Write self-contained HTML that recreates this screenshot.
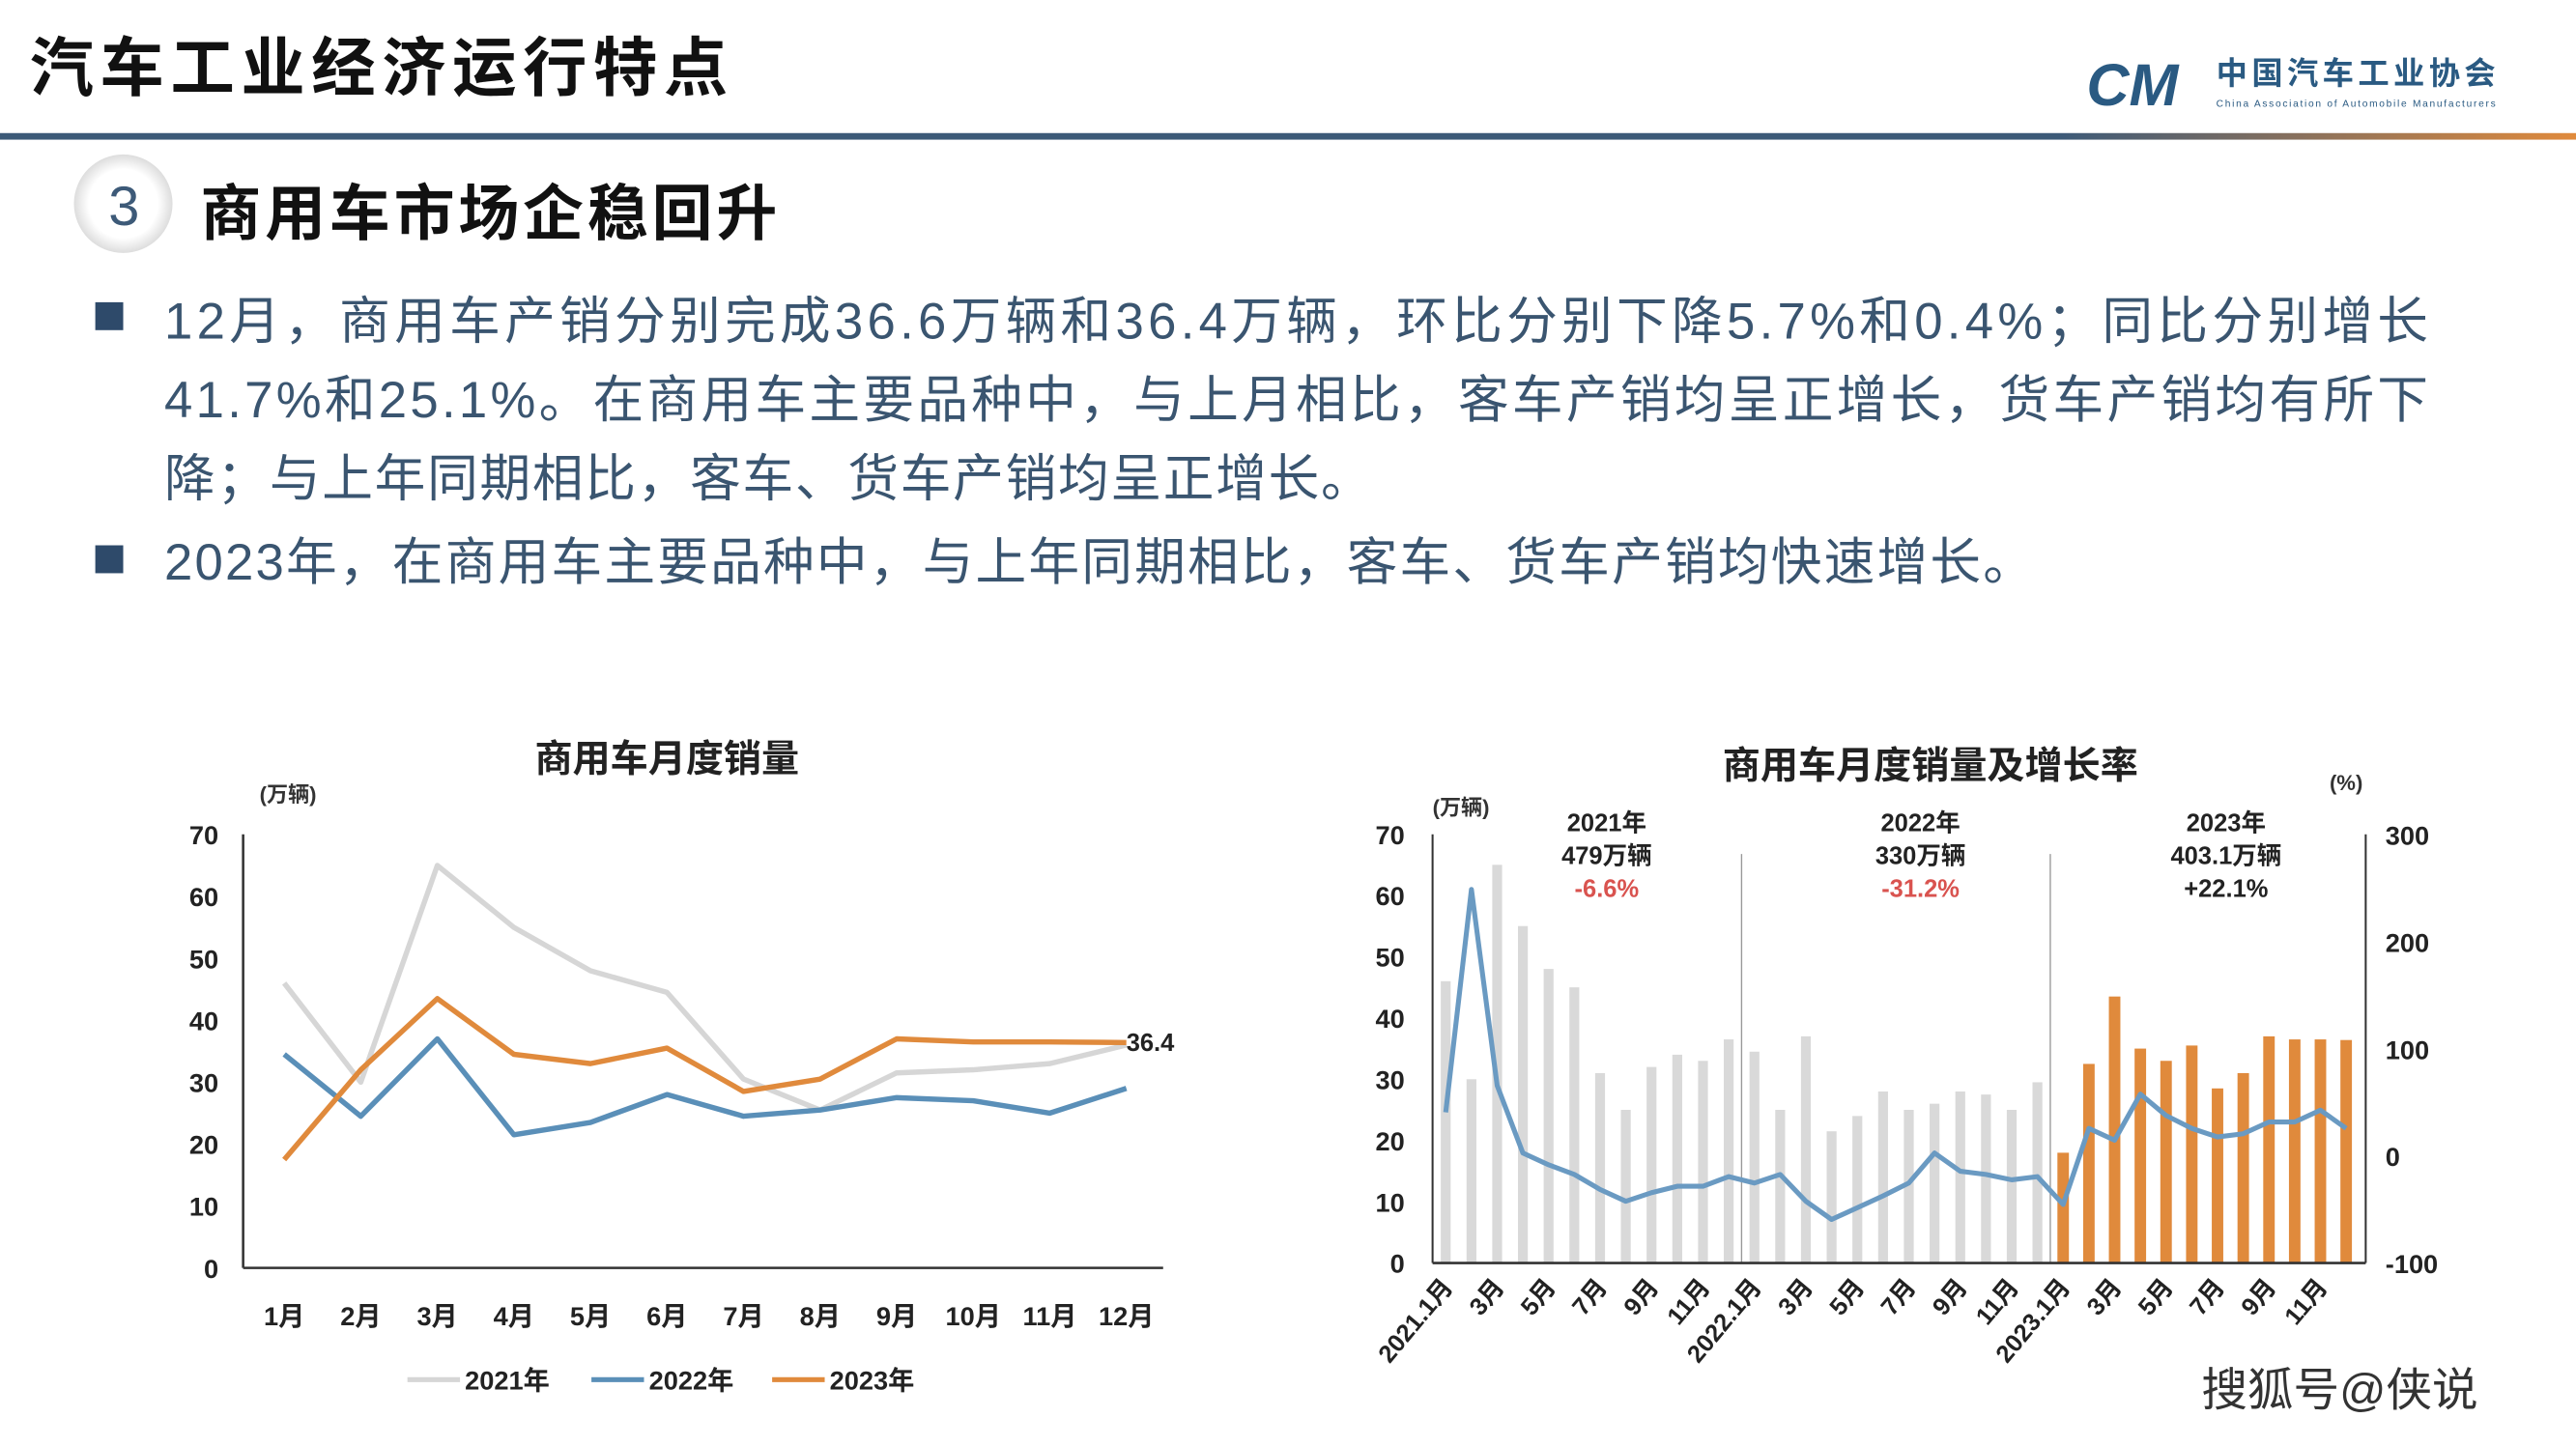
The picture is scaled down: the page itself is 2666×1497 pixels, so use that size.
<!DOCTYPE html>
<html><head><meta charset="utf-8"><style>
html,body{margin:0;padding:0;background:#fff;width:2666px;height:1497px;overflow:hidden}
svg{display:block}
text{font-family:"Liberation Sans","Noto Sans CJK SC",sans-serif}
</style></head><body>
<svg id="s" width="2666" height="1497" viewBox="0 0 1568 880.4" xmlns="http://www.w3.org/2000/svg">
<defs><linearGradient id="hl" x1="0" x2="1"><stop offset="0" stop-color="#3d5a78"/><stop offset="0.8" stop-color="#3d5a78"/><stop offset="1" stop-color="#e08a3c"/></linearGradient>
<radialGradient id="cg"><stop offset="0.7" stop-color="#fff"/><stop offset="1" stop-color="#ddd"/></radialGradient></defs>
<text x="18" y="55" font-size="39" font-weight="bold" fill="#111" textLength="425">汽车工业经济运行特点</text>
<g>
<text x="1270" y="64" font-size="36" font-weight="bold" font-style="italic" fill="#2a5a82">CM</text>
<text x="1349" y="51" font-size="19" font-weight="bold" fill="#2a5a82" textLength="170">中国汽车工业协会</text>
<text x="1349" y="65" font-size="6" fill="#2a5a82" textLength="170">China Association of Automobile Manufacturers</text>
</g>
<rect x="0" y="81" width="1568" height="4" fill="url(#hl)"/>
<circle cx="75" cy="124" r="30" fill="url(#cg)"/>
<text x="66" y="137" font-size="34" fill="#3d5a78">3</text>
<text x="122" y="143" font-size="37" font-weight="bold" fill="#111" textLength="351">商用车市场企稳回升</text>
<g font-size="31" fill="#3a5570">
<rect x="58" y="184" width="17" height="17" fill="#2e4a6a"/>
<text x="100" y="206" textLength="1378">12月，商用车产销分别完成36.6万辆和36.4万辆，环比分别下降5.7%和0.4%；同比分别增长</text>
<text x="100" y="254" textLength="1378">41.7%和25.1%。在商用车主要品种中，与上月相比，客车产销均呈正增长，货车产销均有所下</text>
<text x="100" y="302" textLength="735">降；与上年同期相比，客车、货车产销均呈正增长。</text>
<rect x="58" y="332" width="17" height="17" fill="#2e4a6a"/>
<text x="100" y="353" textLength="1138">2023年，在商用车主要品种中，与上年同期相比，客车、货车产销均快速增长。</text>
</g>
<g id="left"></g>
<g id="right"></g>
<text x="1340" y="856" font-size="28" fill="#333">搜狐号@侠说</text>
</svg>
<script>
const months=['1月','2月','3月','4月','5月','6月','7月','8月','9月','10月','11月','12月'];
const s2021=[46,30,65,55,48,44.5,30.5,25.5,31.5,32,33,36];
const s2022=[34.5,24.5,37,21.5,23.5,28,24.5,25.5,27.5,27,25,29];
const s2023=[17.5,32,43.5,34.5,33,35.5,28.5,30.5,37,36.5,36.5,36.4];
const yTicks=[0,10,20,30,40,50,60,70];
const barSales=[46,30,65,55,48,45,31,25,32,34,33,36.5, 34.5,25,37,21.5,24,28,25,26,28,27.5,25,29.5, 18,32.5,43.5,35,33,35.5,28.5,31,37,36.5,36.5,36.4];
const growthPct=[41,249,66,3,-8,-17,-31,-42,-34,-28,-28,-19, -25,-17,-42,-59,-48,-37,-25,3,-14,-17,-22,-19, -45,26,15,58,38,26,18,21,32,32,43,26];
const xLabels=['2021.1月','3月','5月','7月','9月','11月','2022.1月','3月','5月','7月','9月','11月','2023.1月','3月','5月','7月','9月','11月'];
const rTicks=[300,200,100,0,-100];
const NS='http://www.w3.org/2000/svg';
function mk(p,t,a,txt){const e=document.createElementNS(NS,t);for(const k in a)e.setAttribute(k,a[k]);if(txt!==undefined)e.textContent=txt;p.appendChild(e);return e;}
// Left chart
const L=document.getElementById('left');
const lx=i=>173+i*46.6, ly=v=>772-v*3.77;
const t1=mk(L,'text',{x:406,y:470,'font-size':23,'font-weight':'bold','text-anchor':'middle',fill:'#222'},'商用车月度销量');


const u1=mk(L,'text',{x:158,y:488,'font-size':13,'font-weight':'bold',fill:'#333'},'(万辆)');


yTicks.forEach(v=>{const e=mk(L,'text',{x:133,y:ly(v)+6,'font-size':16,'font-weight':'bold','text-anchor':'end',fill:'#222'},String(v));

});
const ya=mk(L,'line',{x1:148,y1:508,x2:148,y2:772,stroke:'#333','stroke-width':1.5});


const xa=mk(L,'line',{x1:148,y1:772,x2:708,y2:772,stroke:'#333','stroke-width':1.5});


months.forEach((m,i)=>{const e=mk(L,'text',{x:lx(i),y:807,'font-size':16,'font-weight':'bold','text-anchor':'middle',fill:'#222'},m);

});
[[s2021,'#d6d6d6','2021'],[s2022,'#5a8fb8','2022'],[s2023,'#e08a3c','2023']].forEach(([d,c,n])=>{
const p=mk(L,'polyline',{points:d.map((v,i)=>lx(i)+','+ly(v)).join(' '),fill:'none',stroke:c,'stroke-width':3.2,'stroke-linejoin':'round'});

});
const lab=mk(L,'text',{x:lx(11),y:ly(s2023[11])+5,'font-size':15,'font-weight':'bold',fill:'#222'},String(s2023[11]));


[['#d6d6d6','2021年',248],['#5a8fb8','2022年',360],['#e08a3c','2023年',470]].forEach(([c,t,x])=>{
const g=mk(L,'g',{});


mk(g,'line',{x1:x,y1:840,x2:x+32,y2:840,stroke:c,'stroke-width':3});
mk(g,'text',{x:x+35,y:846,'font-size':16,'font-weight':'bold',fill:'#222'},t);});
// Right chart
const R=document.getElementById('right');
const rx=i=>880+i*15.66, ry=v=>769-v*3.73, rp=p=>704-p*0.6525;
const t2=mk(R,'text',{x:1175,y:474,'font-size':23,'font-weight':'bold','text-anchor':'middle',fill:'#222'},'商用车月度销量及增长率');


const u2=mk(R,'text',{x:872,y:496,'font-size':13,'font-weight':'bold',fill:'#333'},'(万辆)');


const u3=mk(R,'text',{x:1418,y:481,'font-size':13,'font-weight':'bold',fill:'#333'},'(%)');


yTicks.forEach(v=>{const e=mk(R,'text',{x:855,y:ry(v)+6,'font-size':16,'font-weight':'bold','text-anchor':'end',fill:'#222'},String(v));

});
rTicks.forEach(v=>{const e=mk(R,'text',{x:1452,y:rp(v)+6,'font-size':16,'font-weight':'bold',fill:'#222'},String(v));

});
const a1=mk(R,'line',{x1:872,y1:508,x2:872,y2:769,stroke:'#333','stroke-width':1.2});


const a2=mk(R,'line',{x1:1440,y1:508,x2:1440,y2:769,stroke:'#333','stroke-width':1.2});


[rx(11.5),rx(23.5)].forEach(x=>{const e=mk(R,'line',{x1:x,y1:520,x2:x,y2:769,stroke:'#999','stroke-width':0.8});

});
barSales.forEach((v,i)=>{const o=i>=24;const w=o?7:6;
const b=mk(R,'rect',{x:rx(i)-w/2,y:ry(v),width:w,height:ry(0)-ry(v),fill:o?'#e08a3c':'#d9d9d9'});

});
const xb=mk(R,'line',{x1:872,y1:769,x2:1440,y2:769,stroke:'#333','stroke-width':1.5});


const gl=mk(R,'polyline',{points:growthPct.map((p,i)=>rx(i)+','+rp(p)).join(' '),fill:'none',stroke:'#6a9ac2','stroke-width':3,'stroke-linejoin':'round'});


xLabels.forEach((t,k)=>{const x=rx(k*2)+5,y=784;
const e=mk(R,'text',{x:x,y:y,'font-size':15,'font-weight':'bold','text-anchor':'end',fill:'#222',transform:`rotate(-50 ${x} ${y})`},t);

});
[[978,'2021年','479万辆','-6.6%','#d9534f'],[1169,'2022年','330万辆','-31.2%','#d9534f'],[1355,'2023年','403.1万辆','+22.1%','#222']].forEach(([x,a,b,c,col])=>{
const g=mk(R,'g',{'font-size':15,'font-weight':'bold','text-anchor':'middle'});


mk(g,'text',{x:x,y:506,fill:'#222'},a);mk(g,'text',{x:x,y:526,fill:'#222'},b);mk(g,'text',{x:x,y:546,fill:col},c);});
</script>
</body></html>
